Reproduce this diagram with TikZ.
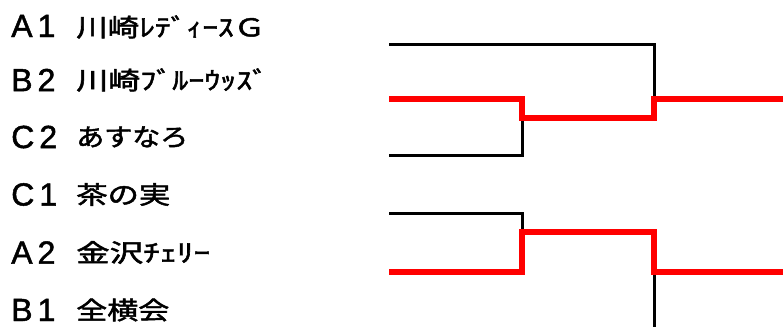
\documentclass[tikz,border=0pt]{standalone}
\usepackage{fontspec}
\usepackage{graphicx}
\newfontfamily\jpfont[FakeBold=1.8]{Noto Sans CJK JP}
\newfontfamily\codefont[FakeBold=1.5]{Liberation Sans}
\newlength\px
\setlength\px{0.75pt}
\begin{document}
\begin{tikzpicture}[x=0.75pt,y=-0.75pt,
  codelabel/.style={anchor=west,inner sep=0pt,font=\codefont\fontsize{24pt}{26pt}\selectfont},
  namelabel/.style={anchor=west,inner sep=0pt,font=\jpfont\fontsize{18.5pt}{20pt}\selectfont},
  loser/.style={draw=black,line width=2.25pt},
  winner/.style={draw=red,line width=4.5pt}]
\useasboundingbox (0,0) rectangle (783,327);
% labels
\node[codelabel] (c1) at (11,26) {A\kern3.75pt 1};
\node[codelabel] (c2) at (11,80) {B\kern3.75pt 2};
\node[codelabel] (c3) at (11,137) {C\kern3.75pt 2};
\node[codelabel] (c4) at (11,194.5) {C\kern3.75pt 1};
\node[codelabel] (c5) at (11,252.5) {A\kern3.75pt 2};
\node[codelabel] (c6) at (11,310) {B\kern3.75pt 1};
\node[namelabel] (n1) at (76,27) {\resizebox{189\px}{\height}{川崎ﾚﾃﾞｨｰｽＧ}};
\node[namelabel] (n2) at (76,80) {\resizebox{192\px}{\height}{川崎ﾌﾞﾙｰｳｯｽﾞ}};
\node[namelabel] (n3) at (76,137) {\resizebox{112\px}{\height}{あすなろ}};
\node[namelabel] (n4) at (76,194.5) {\resizebox{94\px}{\height}{茶の実}};
\node[namelabel] (n5) at (76,252.5) {\resizebox{134\px}{\height}{金沢ﾁｪﾘｰ}};
\node[namelabel] (n6) at (76,310) {\resizebox{93\px}{\height}{全横会}};
% bracket points
\coordinate (t1) at (389,44.5);
\coordinate (t2) at (389,99);
\coordinate (t3) at (389,156);
\coordinate (t4) at (389,214);
\coordinate (t5) at (389,272);
\coordinate (m1) at (522,118);
\coordinate (m2) at (522,232);
\coordinate (f1) at (654,99);
\coordinate (f2) at (654,272);
\coordinate (e1) at (783,99);
\coordinate (e2) at (783,272);
\coordinate (b6) at (654,327);
% black (losing) lines
\draw[loser] (t1) -| (f1);
\draw[loser] (t3) -| (m1);
\draw[loser] (t4) -| (m2);
\draw[loser] (f2) -- (b6);
% red (winning) lines
\draw[winner] (t2) -| (m1) -| (f1) -- (e1);
\draw[winner] (t5) -| (m2) -| (f2) -- (e2);
\end{tikzpicture}
\end{document}
